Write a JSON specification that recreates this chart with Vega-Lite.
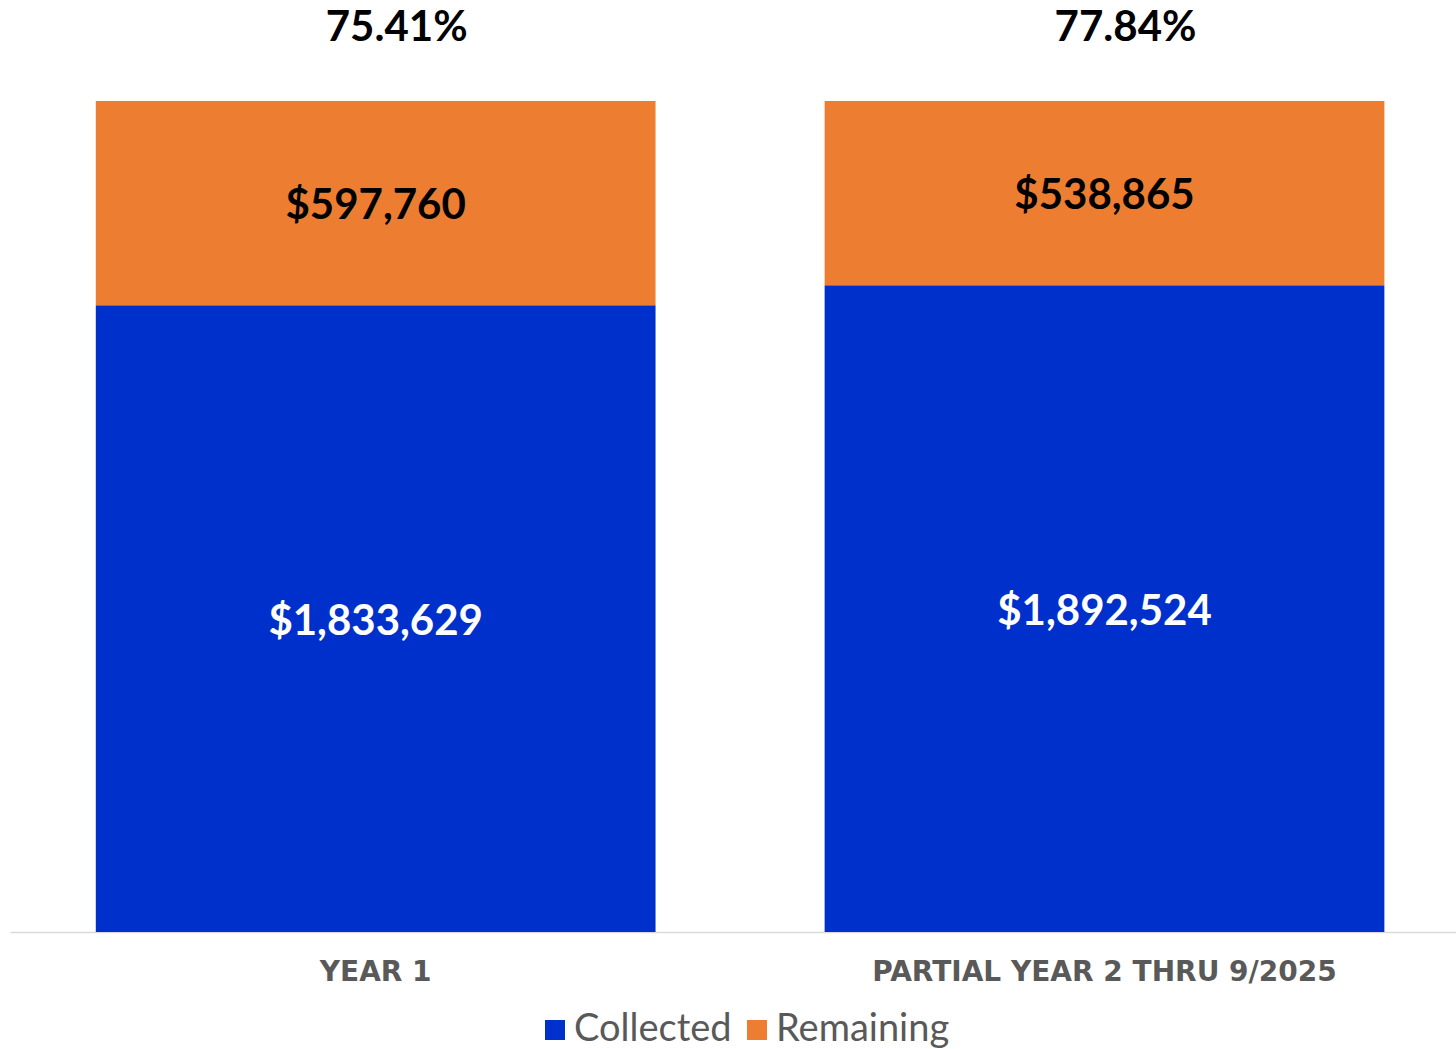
{
  "$schema": "https://vega.github.io/schema/vega-lite/v6.json",
  "width": 1446,
  "height": 831,
  "autosize": {"type": "none"},
  "padding": {"left": 10, "top": 101, "right": 0, "bottom": 117},
  "config": {"view": {"stroke": null}, "font": "Lato"},
  "datasets": {
    "amounts": [
      {"category": "YEAR 1", "status": "Collected", "amount": 1833629},
      {"category": "YEAR 1", "status": "Remaining", "amount": 597760},
      {"category": "PARTIAL YEAR 2 THRU 9/2025", "status": "Collected", "amount": 1892524},
      {"category": "PARTIAL YEAR 2 THRU 9/2025", "status": "Remaining", "amount": 538865}
    ],
    "shares": [
      {"category": "YEAR 1", "pct": "75.41%", "total": 2431389},
      {"category": "PARTIAL YEAR 2 THRU 9/2025", "pct": "77.84%", "total": 2431389}
    ]
  },
  "layer": [
    {
      "data": {"name": "amounts"},
      "mark": {"type": "bar"},
      "encoding": {
        "x": {
          "field": "category", "type": "nominal",
          "sort": ["YEAR 1", "PARTIAL YEAR 2 THRU 9/2025"],
          "scale": {"paddingInner": 0.232, "paddingOuter": 0.108, "align": 0.545},
          "axis": {"title": null, "labelAngle": 0, "ticks": false, "domainColor": "#d9d9d9", "domainWidth": 1.5,
                   "labelFont": "DejaVu Sans", "labelFontSize": 28, "labelFontWeight": "bold", "labelColor": "#595959",
                   "labelPadding": 26, "labelLimit": 800}
        },
        "y": {
          "field": "amount", "type": "quantitative", "stack": "zero",
          "scale": {"domain": [0, 2431389], "nice": false},
          "axis": null
        },
        "color": {
          "field": "status", "type": "nominal",
          "scale": {"domain": ["Collected", "Remaining"], "range": ["#0030CC", "#ED7D31"]},
          "legend": {"orient": "none", "legendX": 526, "legendY": 910, "direction": "horizontal", "title": null,
                     "symbolType": "square", "symbolSize": 400, "symbolStrokeWidth": 0, "symbolOpacity": 1,
                     "labelFont": "Lato", "labelFontSize": 38, "labelColor": "#595959", "labelOffset": 0,
                     "columnPadding": 6, "padding": 0, "labelLimit": 400}
        },
        "order": {"field": "status", "sort": "ascending"}
      }
    },
    {
      "data": {"name": "amounts"},
      "transform": [
        {"stack": "amount", "groupby": ["category"], "sort": [{"field": "status", "order": "ascending"}], "as": ["y0", "y1"]},
        {"calculate": "(datum.y0 + datum.y1) / 2", "as": "ymid"},
        {"calculate": "'$' + format(datum.amount, ',')", "as": "label"}
      ],
      "mark": {"type": "text", "font": "Lato", "fontSize": 42, "fontWeight": "bold", "baseline": "middle", "align": "center", "dy": 3},
      "encoding": {
        "x": {"field": "category", "type": "nominal", "sort": ["YEAR 1", "PARTIAL YEAR 2 THRU 9/2025"]},
        "y": {"field": "ymid", "type": "quantitative"},
        "text": {"field": "label"},
        "color": {"condition": {"test": "datum.status === 'Collected'", "value": "#ffffff"}, "value": "#000000"}
      }
    },
    {
      "data": {"name": "shares"},
      "mark": {"type": "text", "font": "Lato", "fontSize": 42, "fontWeight": "bold", "baseline": "middle", "align": "center", "dy": -73, "dx": 21, "color": "#000000"},
      "encoding": {
        "x": {"field": "category", "type": "nominal", "sort": ["YEAR 1", "PARTIAL YEAR 2 THRU 9/2025"]},
        "y": {"field": "total", "type": "quantitative"},
        "text": {"field": "pct"}
      }
    }
  ]
}
